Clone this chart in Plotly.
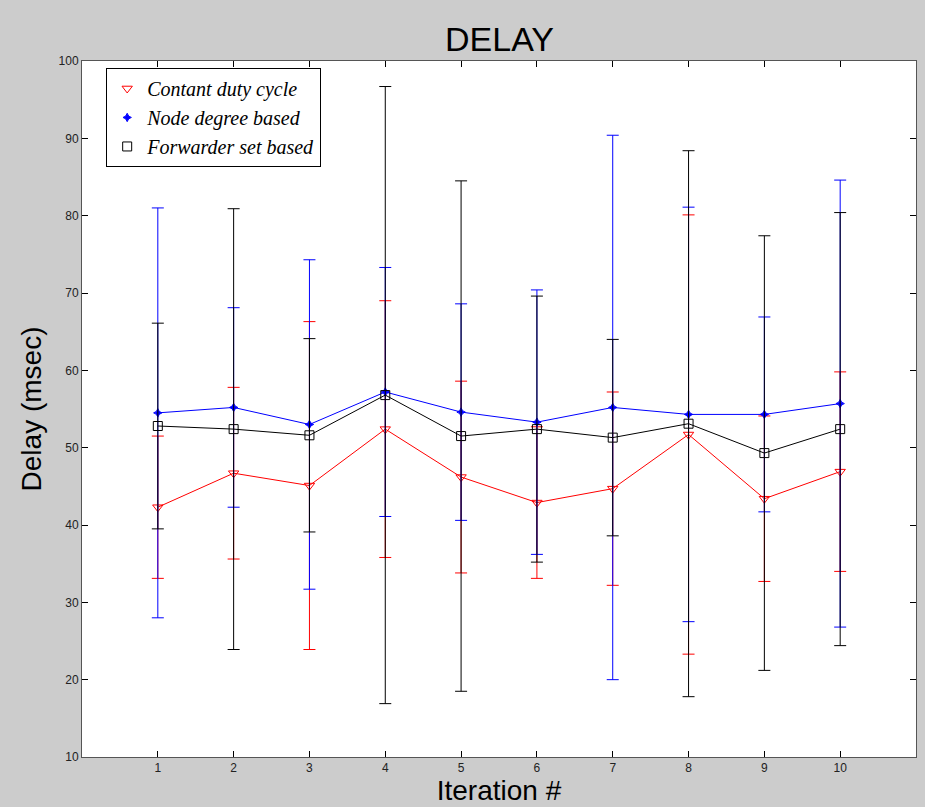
import plotly.graph_objects as go

iterations = [1, 2, 3, 4, 5, 6, 7, 8, 9, 10]

red_mean = [42.3, 46.7, 45.1, 52.4, 46.2, 42.9, 44.7, 51.7, 43.4, 46.9]
red_err = [9.2, 11.1, 21.2, 16.6, 12.4, 9.8, 12.5, 28.4, 10.7, 12.9]

blue_mean = [54.5, 55.2, 53.0, 57.2, 54.6, 53.3, 55.2, 54.3, 54.3, 55.7]
blue_err = [26.5, 12.9, 21.3, 16.1, 14.0, 17.1, 35.2, 26.8, 12.6, 28.9]

black_mean = [52.8, 52.4, 51.6, 56.8, 51.5, 52.4, 51.3, 53.1, 49.3, 52.4]
black_err = [13.3, 28.5, 12.5, 39.9, 33.0, 17.2, 12.7, 35.3, 28.1, 28.0]

series_names = ["Contant duty cycle", "Node degree based", "Forwarder set based"]
y_ticks = [10, 20, 30, 40, 50, 60, 70, 80, 90, 100]

series = [
    (series_names[0], red_mean, red_err, "#ff0000", "triangle-down-open", 9),
    (series_names[1], blue_mean, blue_err, "#0000ff", "star-diamond", 6),
    (series_names[2], black_mean, black_err, "#000000", "square-open", 9),
]

fig = go.Figure()
for name, mean, err, color, symbol, size in series:
    fig.add_trace(go.Scatter(
        x=iterations, y=mean, mode="lines+markers", name=name,
        line=dict(color=color, width=1),
        marker=dict(symbol=symbol, size=size, color=color, line=dict(color=color, width=1)),
        error_y=dict(type="data", array=err, visible=True, color=color, thickness=1, width=6),
        showlegend=False,
    ))
for name, mean, err, color, symbol, size in series:
    fig.add_trace(go.Scatter(
        x=[None], y=[None], mode="markers", name=name,
        marker=dict(symbol=symbol, size=size, color=color, line=dict(color=color, width=1)),
        showlegend=True,
    ))

fig.update_layout(
    width=925, height=807,
    paper_bgcolor="#cccccc", plot_bgcolor="#ffffff",
    margin=dict(l=82, r=9, t=61, b=50, autoexpand=False),
    title=dict(text="DELAY", x=0.54, xanchor="center", y=0.952, yanchor="middle",
               font=dict(family="Arial, Liberation Sans", size=34, color="#000000")),
    font=dict(family="Arial, Liberation Sans", color="#000000"),
    showlegend=True,
    legend=dict(
        x=0.029, y=0.99, xanchor="left", yanchor="top",
        bgcolor="#ffffff", bordercolor="#000000", borderwidth=1,
        font=dict(family="Liberation Serif, Times New Roman", size=20, style="italic", color="#000000"),
        tracegroupgap=0, itemsizing="trace",
    ),
    xaxis=dict(
        range=[0, 11], tickmode="array", tickvals=iterations, automargin=False,
        ticks="inside", ticklen=6, tickcolor="#000000", mirror="ticks",
        showline=True, linecolor="#555555", linewidth=1, showgrid=False, zeroline=False,
        tickfont=dict(size=12, color="#222222"),
        title=dict(text="Iteration #", font=dict(size=28, color="#000000"), standoff=0),
    ),
    yaxis=dict(
        range=[10, 100], tickmode="array", tickvals=y_ticks, automargin=False,
        ticks="inside", ticklen=6, tickcolor="#000000", mirror="ticks",
        showline=True, linecolor="#555555", linewidth=1, showgrid=False, zeroline=False,
        tickfont=dict(size=12, color="#222222"),
        title=dict(text="Delay (msec)", font=dict(size=28, color="#000000"), standoff=8),
    ),
)

fig.write_html(
    "out.html",
    config={"displayModeBar": False},
    post_script="document.body.style.margin='0px';document.body.style.background='#cccccc';",
)
